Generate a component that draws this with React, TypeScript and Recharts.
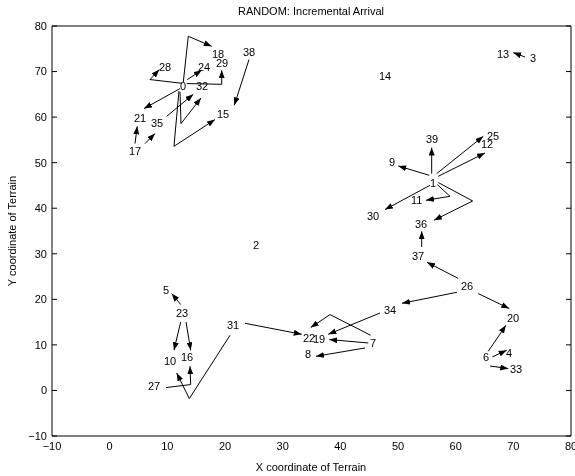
import { ComposedChart, Line, Scatter, XAxis, YAxis } from 'recharts';

// node labels: id, x, y (terrain coordinates)
const nodeIds = [
  0, 1, 2, 3, 4, 5, 6, 7, 8, 9, 10, 11, 12, 13, 14, 15, 16, 17, 18, 19,
  20, 21, 22, 23, 24, 25, 26, 27, 28, 29, 30, 31, 32, 33, 34, 35, 36, 37, 38, 39,
];
const nodeX = [
  12.2, 55.5, 24.85, 72.9, 68.7, 9.25, 64.7, 45.1, 33.9, 48.4,
  9.4, 52.25, 64.4, 67.2, 46.7, 18.6, 12.4, 3.35, 17.7, 35.3,
  68.9, 4.2, 33.5, 11.5, 15.3, 65.4, 60.9, 6.65, 8.55, 18.4,
  44.6, 20.35, 15.0, 69.4, 47.6, 7.2, 52.9, 52.4, 23.1, 54.85,
];
const nodeY = [
  66.8, 45.5, 31.9, 72.9, 8.2, 22.0, 7.3, 10.35, 7.9, 50.1,
  6.4, 41.7, 54.0, 73.8, 69.0, 60.6, 7.3, 52.5, 73.8, 11.2,
  15.8, 59.7, 11.45, 16.95, 70.9, 55.8, 22.9, 0.9, 70.9, 71.8,
  38.2, 14.3, 66.8, 4.65, 17.6, 58.6, 36.5, 29.45, 74.2, 55.1,
];

// arrival paths, each ends in an arrowhead
const upperLeftPaths = [
  [[12.54, 67.42], [6.99, 68.24], [8.61, 70.43]],
  [[12.77, 67.71], [13.63, 77.74], [17.69, 75.54]],
  [[13.46, 68.24], [15.96, 70.28]],
  [[13.36, 67.36], [19.43, 67.2], [19.43, 70.28]],
  [[12.2, 66.26], [5.95, 61.87]],
  [[12.02, 65.73], [11.15, 53.59], [18.26, 59.45]],
  [[12.2, 65.51], [12.37, 58.58], [15.84, 64.2]],
  [[9.89, 60.18], [14.5, 65.01]],
  [[24.16, 72.62], [21.61, 62.59]],
  [[4.39, 54.19], [4.79, 57.98]],
  [[6.13, 54.19], [7.86, 56.38]],
];
const rightPaths = [
  [[55.84, 47.6], [55.84, 53.31]],
  [[55.42, 47.23], [50.05, 49.27]],
  [[56.71, 47.6], [64.79, 55.79]],
  [[56.99, 47.01], [65.08, 52.12]],
  [[55.55, 45.03], [47.74, 39.7]],
  [[56.81, 45.19], [59.01, 42.62], [54.85, 41.74]],
  [[56.99, 45.63], [62.95, 41.59], [56.24, 37.35]],
  [[54.11, 31.49], [54.11, 34.94]],
  [[60.4, 24.62], [55.03, 28.13]],
  [[60.23, 21.55], [50.69, 19.13]],
  [[63.92, 21.26], [69.3, 17.97]],
  [[65.65, 8.6], [68.72, 14.3]],
  [[66.35, 7.35], [68.85, 8.82]],
  [[65.95, 5.37], [69.12, 4.8]],
  [[72.02, 73.2], [69.99, 74.16]],
];
const lowerPaths = [
  [[23.47, 14.74], [33.3, 12.33]],
  [[45.26, 12.11], [38.21, 16.65], [34.86, 13.8]],
  [[46.88, 17.0], [37.91, 12.33]],
  [[44.85, 10.42], [38.08, 11.17]],
  [[44.27, 9.32], [35.78, 7.5]],
  [[12.32, 18.85], [10.76, 21.26]],
  [[12.32, 15.03], [11.15, 8.82]],
  [[13.24, 15.03], [14.05, 8.82]],
  [[9.77, 0.63], [14.05, 1.29], [13.93, 5.3]],
  [[20.87, 12.11], [13.81, -1.79], [11.62, 3.83]],
];

const ticks = [-10, 0, 10, 20, 30, 40, 50, 60, 70, 80];

const font = '"Liberation Sans", Arial, Helvetica, sans-serif';
const fmt = (v: number) => (v < 0 ? `\u2212${-v}` : `${v}`);
const blank = () => '';

function NodeLabel(props: any) {
  const { cx, cy, payload } = props;
  if (cx == null || cy == null) return null;
  return (
    <text
      x={Math.round(cx)}
      y={Math.round(cy + 4)}
      fontSize={11}
      fontFamily={font}
      fill="#000"
      stroke="none"
    >
      {payload.id}
    </text>
  );
}

export default function App() {
  const labels = nodeIds.map((id, i) => ({ id, x: nodeX[i], y: nodeY[i] }));
  const paths = [...upperLeftPaths, ...rightPaths, ...lowerPaths].map((p) =>
    p.map(([x, y]) => ({ x, y }))
  );
  const tickStyle = { fill: '#000', fontSize: 11, fontFamily: font };

  return (
    <div
      style={{
        position: 'relative',
        width: 575,
        height: 476,
        background: '#fff',
        filter: 'grayscale(1)',
      }}
    >
      <style>{'body{margin:0}'}</style>
      <svg width={0} height={0} style={{ position: 'absolute' }}>
        <defs>
          <marker
            id="arrowHead"
            markerWidth={8}
            markerHeight={6}
            refX={8}
            refY={3}
            orient="auto"
            markerUnits="userSpaceOnUse"
          >
            <path d="M0,0 L8,3 L0,6 Z" fill="#000" />
          </marker>
        </defs>
      </svg>
      <ComposedChart width={575} height={476} margin={{ top: 26, right: 4, bottom: 0, left: 0 }}>
        <XAxis
          type="number"
          dataKey="x"
          domain={[-10, 80]}
          ticks={ticks}
          interval={0}
          allowDataOverflow
          tickFormatter={fmt}
          tickLine={false}
          tickSize={0}
          tickMargin={6}
          height={40}
          axisLine={{ stroke: '#000' }}
          tick={tickStyle}
        />
        <XAxis
          xAxisId="bottomTicks"
          type="number"
          domain={[-10, 80]}
          ticks={ticks}
          interval={0}
          allowDataOverflow
          mirror
          tickFormatter={blank}
          tickSize={5}
          tickLine={{ stroke: '#000' }}
          axisLine={false}
        />
        <XAxis
          xAxisId="top"
          orientation="top"
          type="number"
          domain={[-10, 80]}
          ticks={ticks}
          interval={0}
          allowDataOverflow
          mirror
          tickFormatter={blank}
          tickSize={5}
          tickLine={{ stroke: '#000' }}
          axisLine={{ stroke: '#000' }}
        />
        <YAxis
          type="number"
          dataKey="y"
          domain={[-10, 80]}
          ticks={ticks}
          interval={0}
          allowDataOverflow
          tickFormatter={fmt}
          tickLine={false}
          tickSize={0}
          tickMargin={5}
          width={52}
          axisLine={{ stroke: '#000' }}
          tick={tickStyle}
        />
        <YAxis
          yAxisId="leftTicks"
          type="number"
          domain={[-10, 80]}
          ticks={ticks}
          interval={0}
          allowDataOverflow
          mirror
          tickFormatter={blank}
          tickSize={5}
          tickLine={{ stroke: '#000' }}
          axisLine={false}
        />
        <YAxis
          yAxisId="right"
          orientation="right"
          type="number"
          domain={[-10, 80]}
          ticks={ticks}
          interval={0}
          allowDataOverflow
          mirror
          tickFormatter={blank}
          tickSize={5}
          tickLine={{ stroke: '#000' }}
          axisLine={{ stroke: '#000' }}
        />
        {paths.map((p, i) => (
          <Line
            key={`path-${i}`}
            data={p}
            dataKey="y"
            type="linear"
            stroke="#000"
            strokeWidth={1}
            dot={false}
            activeDot={false}
            markerEnd="url(#arrowHead)"
            isAnimationActive={false}
          />
        ))}
        <Scatter
          data={labels}
          dataKey="y"
          shape={NodeLabel}
          fill="#000"
          isAnimationActive={false}
        />
      </ComposedChart>
      <svg
        width={575}
        height={476}
        style={{ position: 'absolute', left: 0, top: 0, pointerEvents: 'none' }}
        fontFamily={font}
        fontSize={11}
        fill="#000"
      >
        <text x={311} y={15} textAnchor="middle">RANDOM: Incremental Arrival</text>
        <text x={311} y={471} textAnchor="middle">X coordinate of Terrain</text>
        <text x={16.3} y={231} textAnchor="middle" transform="rotate(-90 16.3 231)">
          Y coordinate of Terrain
        </text>
      </svg>
    </div>
  );
}
